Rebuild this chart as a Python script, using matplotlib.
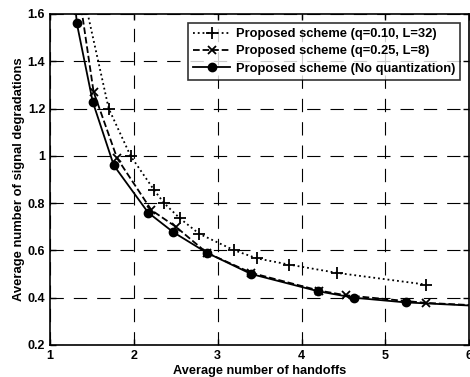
import matplotlib.pyplot as plt

plt.rcParams['font.family'] = ['Liberation Sans', 'DejaVu Sans']
plt.rcParams['font.weight'] = 'bold'

# curve points (first/last points carry the line only, no marker)
x_q10 = [1.40, 1.70, 1.96, 2.24, 2.36, 2.55, 2.78, 3.20, 3.47, 3.85, 4.42, 5.49]
y_q10 = [1.68, 1.20, 1.00, 0.856, 0.80, 0.735, 0.67, 0.60, 0.566, 0.54, 0.505, 0.455]

x_q25 = [1.35, 1.52, 1.80, 2.21, 2.50, 2.87, 3.40, 4.21, 4.53, 5.48, 6.05]
y_q25 = [1.68, 1.27, 0.99, 0.77, 0.70, 0.59, 0.505, 0.43, 0.41, 0.378, 0.368]

x_noq = [1.29, 1.32, 1.51, 1.76, 2.17, 2.47, 2.87, 3.40, 4.20, 4.62, 5.24, 6.05]
y_noq = [1.68, 1.56, 1.228, 0.96, 0.76, 0.677, 0.59, 0.50, 0.427, 0.40, 0.38, 0.366]

labels = ['Proposed scheme (q=0.10, L=32)',
          'Proposed scheme (q=0.25, L=8)',
          'Proposed scheme (No quantization)']

yticks = [0.2, 0.4, 0.6, 0.8, 1.0, 1.2, 1.4, 1.6]
ytick_labels = ['0.2', '0.4', '0.6', '0.8', '1', '1.2', '1.4', '1.6']
xticks = [1, 2, 3, 4, 5, 6]

fig = plt.figure(figsize=(4.7, 3.77), dpi=100)
ax = fig.add_axes([0.1064, 0.085, 0.892, 0.878])

ax.plot(x_q10, y_q10, color='black', linestyle=':', linewidth=1.3,
        marker='+', markersize=9, markeredgewidth=1.3,
        markevery=list(range(1, len(x_q10))), label=labels[0])
ax.plot(x_q25, y_q25, color='black', linestyle='--', linewidth=1.3,
        marker='x', markersize=6, markeredgewidth=1.3,
        markevery=list(range(1, len(x_q25) - 1)), label=labels[1])
ax.plot(x_noq, y_noq, color='black', linestyle='-', linewidth=1.3,
        marker='o', markersize=6,
        markevery=list(range(1, len(x_noq) - 1)), label=labels[2])

ax.set_xlim(1, 6)
ax.set_ylim(0.2, 1.6)
ax.set_xticks(xticks)
ax.set_yticks(yticks)
ax.set_yticklabels(ytick_labels)
ax.tick_params(direction='in', labelsize=9, width=1, length=4, top=True, right=True)
for lbl in ax.get_xticklabels() + ax.get_yticklabels():
    lbl.set_fontweight('bold')
ax.grid(True, color='black', linestyle=(0, (12, 9)), linewidth=0.8)
for s in ax.spines.values():
    s.set_linewidth(1.2)

ax.set_xlabel('Average number of handoffs', fontsize=9.2, fontweight='bold', labelpad=2)
ax.set_ylabel('Average number of signal degradations', fontsize=9.4, fontweight='bold', labelpad=2)

leg = ax.legend(loc='upper right', fontsize=9.3, frameon=True, fancybox=False,
                borderaxespad=0.7, handlelength=2.9, handletextpad=0.4,
                labelspacing=0.4, borderpad=0.4)
leg.get_frame().set_edgecolor('black')
leg.get_frame().set_linewidth(1.2)
for t in leg.get_texts():
    t.set_fontweight('bold')

fig.savefig('out.png', dpi=100)
